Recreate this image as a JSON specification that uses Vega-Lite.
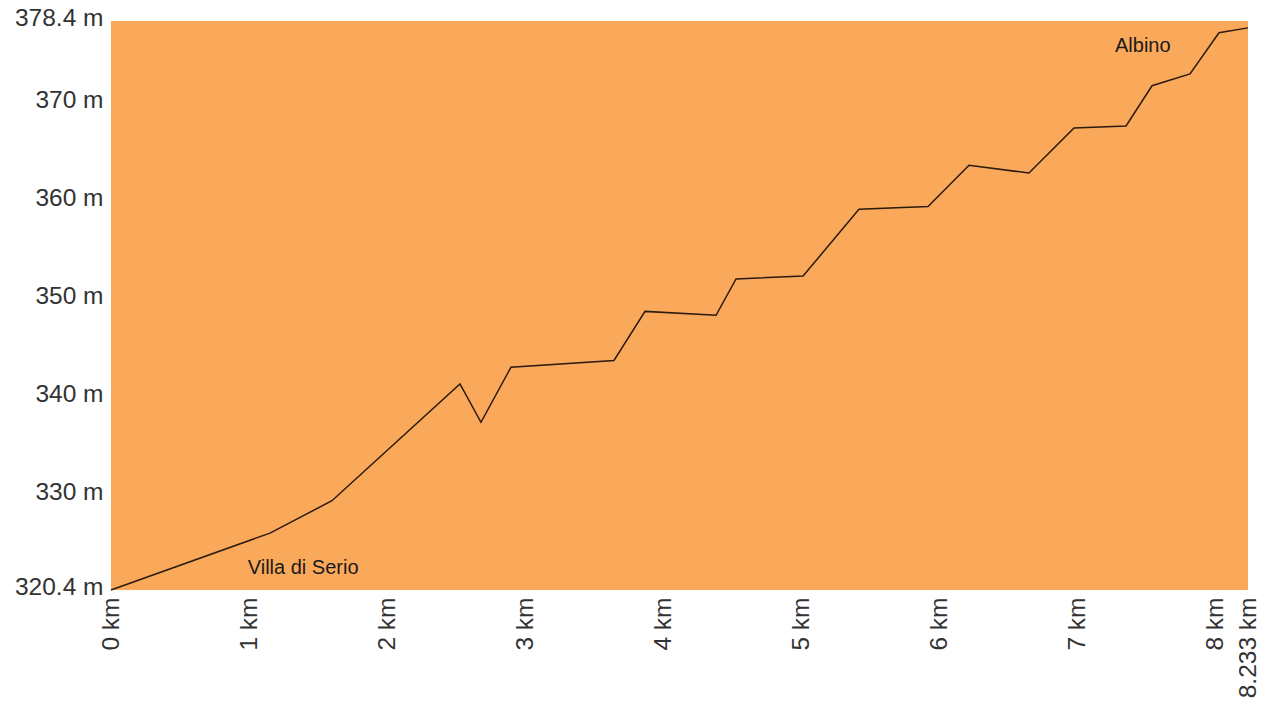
{
  "$schema": "https://vega.github.io/schema/vega-lite/v6.json",
  "width": 1137,
  "height": 569,
  "autosize": "none",
  "padding": {"left": 111, "top": 21, "right": 28, "bottom": 117},
  "background": "white",
  "config": {"view": {"fill": "#faa95a", "stroke": null}, "font": "Liberation Sans"},
  "datasets": {
    "profile": [
      {"km": 0, "elev": 320.4},
      {"km": 1.151, "elev": 326.2},
      {"km": 1.6, "elev": 329.5},
      {"km": 2.527, "elev": 341.4},
      {"km": 2.679, "elev": 337.5},
      {"km": 2.896, "elev": 343.1},
      {"km": 3.642, "elev": 343.8},
      {"km": 3.867, "elev": 348.8},
      {"km": 4.381, "elev": 348.4},
      {"km": 4.526, "elev": 352.1},
      {"km": 5.011, "elev": 352.4},
      {"km": 5.416, "elev": 359.2},
      {"km": 5.916, "elev": 359.5},
      {"km": 6.213, "elev": 363.7},
      {"km": 6.647, "elev": 362.9},
      {"km": 6.973, "elev": 367.5},
      {"km": 7.35, "elev": 367.7},
      {"km": 7.538, "elev": 371.8},
      {"km": 7.813, "elev": 373.0},
      {"km": 8.023, "elev": 377.2},
      {"km": 8.233, "elev": 377.7}
    ],
    "places": [
      {"name": "Villa di Serio", "km": 0.99, "elev": 322.6},
      {"name": "Albino", "km": 7.27, "elev": 375.9}
    ]
  },
  "encoding": {
    "x": {
      "field": "km", "type": "quantitative",
      "scale": {"domain": [0, 8.233], "nice": false, "zero": false},
      "axis": {
        "values": [0, 1, 2, 3, 4, 5, 6, 7, 8, 8.233],
        "labelExpr": "datum.value + ' km'",
        "labelAngle": -90, "labelAlign": "right", "labelBaseline": "middle",
        "labelFontSize": 24.5, "labelColor": "#333333",
        "ticks": false, "domain": false, "grid": false, "title": null,
        "labelPadding": 7, "labelFlush": false, "labelOverlap": false
      }
    },
    "y": {
      "field": "elev", "type": "quantitative",
      "scale": {"domain": [320.4, 378.4], "nice": false, "zero": false},
      "axis": {
        "values": [320.4, 330, 340, 350, 360, 370, 378.4],
        "labelExpr": "datum.value + ' m'",
        "labelFontSize": 24.5, "labelColor": "#333333",
        "ticks": false, "domain": false, "grid": false, "title": null,
        "labelPadding": 8, "labelOffset": -3, "labelFlush": false, "labelOverlap": false
      }
    }
  },
  "layer": [
    {
      "data": {"name": "profile"},
      "mark": {"type": "line", "color": "#2b1a0e", "strokeWidth": 1.5}
    },
    {
      "data": {"name": "places"},
      "mark": {"type": "text", "align": "left", "baseline": "middle", "fontSize": 20, "color": "#1a1a1a"},
      "encoding": {
        "text": {"field": "name"}
      }
    }
  ]
}
